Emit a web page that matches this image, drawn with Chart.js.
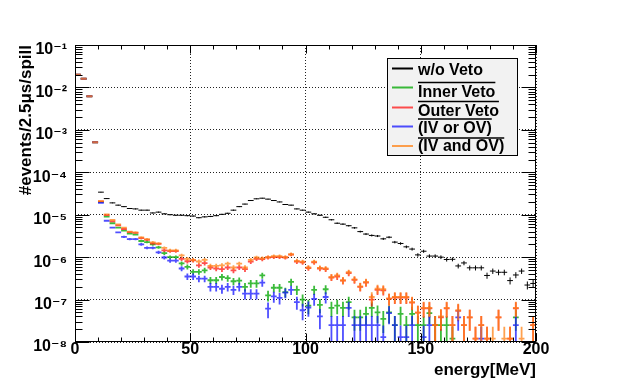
<!DOCTYPE html>
<html>
<head>
<meta charset="utf-8">
<script src="https://cdn.jsdelivr.net/npm/chart.js@4.4.0/dist/chart.umd.min.js"></script>
<style>
  html, body { margin: 0; padding: 0; background: #fff; }
</style>
</head>
<body>
<canvas id="spectrumChart" width="623" height="389"></canvas>
<script>
// bin centres in MeV, 2.5 MeV wide bins
const energyCenters = [
  1.25, 3.75, 6.25, 8.75, 11.25, 13.75, 16.25, 18.75, 21.25, 23.75,
  26.25, 28.75, 31.25, 33.75, 36.25, 38.75, 41.25, 43.75, 46.25, 48.75,
  51.25, 53.75, 56.25, 58.75, 61.25, 63.75, 66.25, 68.75, 71.25, 73.75,
  76.25, 78.75, 81.25, 83.75, 86.25, 88.75, 91.25, 93.75, 96.25, 98.75,
  101.25, 103.75, 106.25, 108.75, 111.25, 113.75, 116.25, 118.75, 121.25, 123.75,
  126.25, 128.75, 131.25, 133.75, 136.25, 138.75, 141.25, 143.75, 146.25, 148.75,
  151.25, 153.75, 156.25, 158.75, 161.25, 163.75, 166.25, 168.75, 171.25, 173.75,
  176.25, 178.75, 181.25, 183.75, 186.25, 188.75, 191.25, 193.75, 196.25, 198.75,
];
const BIN_WIDTH = 2.5;

const woVeto = [
  2.0e-2, 1.6e-2, 6.2e-3, 5.1e-4, 3.4e-5, 2.4e-5, 1.9e-5, 1.68e-5, 1.55e-5, 1.4e-5,
  1.37e-5, 1.28e-5, 1.28e-5, 1.1e-5, 1.15e-5, 1.05e-5, 1.0e-5, 9.7e-6, 9.7e-6, 9.5e-6,
  9.3e-6, 8.5e-6, 8.9e-6, 9.1e-6, 9.5e-6, 1.02e-5, 1.08e-5, 1.28e-5, 1.55e-5, 1.78e-5,
  2.16e-5, 2.37e-5, 2.45e-5, 2.33e-5, 2.16e-5, 2.0e-5, 1.74e-5, 1.68e-5, 1.37e-5, 1.28e-5,
  1.15e-5, 1.05e-5, 9.7e-6, 8.7e-6, 7.6e-6, 6.3e-6, 6.0e-6, 5.5e-6, 4.9e-6, 4.0e-6,
  3.5e-6, 3.25e-6, 3.15e-6, 2.7e-6, 2.95e-6, 2.26e-6, 2.1e-6, 1.75e-6, 1.55e-6, 1.13e-6,
  1.38e-6, 1.06e-6, 1.06e-6, 1.0e-6, 8.8e-7, 8.9e-7, 6.2e-7, 7.3e-7, 5.6e-7, 5.6e-7,
  5.6e-7, 3.7e-7, 4.7e-7, 4.4e-7, 4.4e-7, 2.8e-7, 3.8e-7, 4.7e-7, 2.2e-7, 2.4e-7,
];

const innerVeto = [
  2.0e-2, 1.6e-2, 6.2e-3, 5.1e-4, 2.0e-5, 9.0e-6, 6.3e-6, 4.95e-6, 4.2e-6, 3.6e-6,
  3.4e-6, 2.4e-6, 2.27e-6, 2.0e-6, 1.7e-6, 1.24e-6, 1.0e-6, 1.0e-6, 7.1e-7, 5.9e-7,
  4.5e-7, 4.5e-7, 4.9e-7, 2.85e-7, 2.85e-7, 3.4e-7, 3.2e-7, 2.7e-7, 2.8e-7, 2.0e-7,
  2.4e-7, 2.4e-7, 3.7e-7, 1.26e-7, 1.9e-7, 1.9e-7, 1.5e-7, 2.6e-7, 1.7e-7, 1.0e-7,
  7.2e-8, 1.7e-7, 7.5e-8, 1.75e-7, 6.4e-8, 7.2e-8, 6.4e-8, 8.7e-8, 3.8e-8, 3.8e-8,
  4.6e-8, 6.4e-8, 5.0e-8, 3.5e-8, 5.0e-8, 2.5e-8, 4.6e-8, 2.5e-8, 4.6e-8, 2.5e-8,
  2.5e-8, 4.8e-8, 2.5e-8, 2.5e-8, 2.5e-8, 1.2e-8, null, null, null, null,
  null, null, null, null, null, null, 3.8e-8, null, null, null,
];

const outerVeto = [
  2.0e-2, 1.6e-2, 6.2e-3, 5.1e-4, 2.05e-5, 9.8e-6, 7.0e-6, 5.6e-6, 4.6e-6, 3.9e-6,
  3.75e-6, 2.8e-6, 2.55e-6, 2.1e-6, 2.05e-6, 1.45e-6, 1.38e-6, 1.38e-6, 9.1e-7, 8.0e-7,
  8.4e-7, 6.4e-7, 7.2e-7, 5.7e-7, 5.4e-7, 5.2e-7, 5.7e-7, 4.9e-7, 5.7e-7, 5.2e-7,
  7.8e-7, 9.1e-7, 9.0e-7, 9.8e-7, 1.0e-6, 1.0e-6, 9.8e-7, 1.15e-6, 7.8e-7, 7.5e-7,
  5.5e-7, 7.5e-7, 5.4e-7, 5.2e-7, 3.3e-7, 3.5e-7, 2.8e-7, 4.2e-7, 2.9e-7, 2.0e-7,
  2.5e-7, 1.0e-7, 1.7e-7, 1.65e-7, 1.05e-7, 1.12e-7, 1.12e-7, 1.12e-7, 8.5e-8, 4.9e-8,
  6.2e-8, 6.2e-8, 2.5e-8, 3.8e-8, 6.2e-8, 2.5e-8, 5.4e-8, 2.5e-8, 3.8e-8, 1.2e-8,
  2.5e-8, 1.2e-8, null, 3.8e-8, null, 1.2e-8, 6.2e-8, null, null, 2.5e-8,
];

const ivOrOv = [
  2.0e-2, 1.6e-2, 6.2e-3, 5.1e-4, 1.9e-5, 7.2e-6, 4.95e-6, 3.85e-6, 3.0e-6, 2.67e-6,
  2.67e-6, 2.0e-6, 1.66e-6, 1.66e-6, 1.3e-6, 9.8e-7, 8.3e-7, 8.3e-7, 5.4e-7, 3.5e-7,
  3.5e-7, 3.1e-7, 3.1e-7, 2.0e-7, 2.0e-7, 1.8e-7, 2.0e-7, 1.7e-7, 2.0e-7, 1.38e-7,
  1.38e-7, 1.38e-7, 2.5e-7, 6.1e-8, 1.19e-7, 1.1e-7, 1.45e-7, 1.7e-7, 8.7e-8, 5.6e-8,
  6.5e-8, 1.04e-7, 4.0e-8, 1.15e-7, 2.5e-8, 2.5e-8, 2.5e-8, 6.4e-8, 2.5e-8, 2.5e-8,
  2.5e-8, 2.5e-8, 2.5e-8, 1.3e-8, 4.8e-8, 2.5e-8, 1.3e-8, 1.3e-8, 2.5e-8, null,
  1.3e-8, 2.5e-8, null, null, null, null, 3.8e-8, null, null, null,
  1.2e-8, null, null, null, null, null, 2.5e-8, null, null, null,
];

const ivAndOv = [
  2.0e-2, 1.6e-2, 6.2e-3, 5.1e-4, 2.1e-5, 1.02e-5, 7.5e-6, 5.95e-6, 4.95e-6, 4.0e-6,
  3.85e-6, 2.93e-6, 2.67e-6, 2.24e-6, 2.1e-6, 1.66e-6, 1.45e-6, 1.45e-6, 1.1e-6, 9.1e-7,
  8.6e-7, 7.9e-7, 8.6e-7, 6.2e-7, 6.2e-7, 6.4e-7, 7.0e-7, 5.7e-7, 7.0e-7, 5.7e-7,
  8.6e-7, 9.8e-7, 9.4e-7, 1.0e-6, 1.05e-6, 1.05e-6, 1.0e-6, 1.17e-6, 8.2e-7, 7.8e-7,
  5.7e-7, 7.8e-7, 5.6e-7, 5.4e-7, 3.4e-7, 3.7e-7, 2.85e-7, 4.4e-7, 3.0e-7, 2.04e-7,
  2.6e-7, 1.15e-7, 1.8e-7, 1.75e-7, 1.05e-7, 1.15e-7, 1.15e-7, 1.15e-7, 8.7e-8, 4.9e-8,
  6.4e-8, 6.4e-8, 2.5e-8, 4.0e-8, 6.4e-8, 2.5e-8, 5.6e-8, 2.5e-8, 3.8e-8, 1.2e-8,
  2.5e-8, 1.2e-8, 1.2e-8, 3.8e-8, 1.2e-8, 1.2e-8, 6.4e-8, 1.2e-8, null, 2.5e-8,
];

const xTicks = [0, 50, 100, 150, 200];
const yTicks = [1e-8, 1e-7, 1e-6, 1e-5, 1e-4, 1e-3, 1e-2, 1e-1];

// weight of one event, used for the poisson error bars
const COUNT_UNIT = 1e-8;

const FONT = "'Liberation Sans', 'DejaVu Sans', Arial, sans-serif";
const SUP = { '0': '⁰', '1': '¹', '2': '²', '3': '³', '4': '⁴', '5': '⁵', '6': '⁶', '7': '⁷', '8': '⁸', '9': '⁹' };

function powLabel(v) {
  const e = Math.round(Math.log10(v));
  const digits = String(Math.abs(e)).split('').map(d => SUP[d]).join('');
  return '10' + (e < 0 ? '⁻' : '') + digits;
}

function toPoints(values) {
  return energyCenters.map((e, i) => ({ x: e, y: values[i] }));
}

// crosses: bin width horizontally, sqrt(N) vertically
const errorCrosses = {
  id: 'errorCrosses',
  afterDatasetsDraw(chart) {
    const { ctx, chartArea: a, scales: { x, y } } = chart;
    ctx.save();
    ctx.beginPath();
    ctx.rect(a.left, a.top, a.right - a.left, a.bottom - a.top);
    ctx.clip();
    chart.data.datasets.forEach((ds) => {
      ctx.strokeStyle = ds.borderColor;
      ctx.lineWidth = ds.borderWidth;
      ds.data.forEach((p) => {
        if (p.y == null) return;
        const err = Math.sqrt(p.y * COUNT_UNIT);
        const px = x.getPixelForValue(p.x);
        const x0 = x.getPixelForValue(p.x - BIN_WIDTH / 2);
        const x1 = x.getPixelForValue(p.x + BIN_WIDTH / 2);
        const py = y.getPixelForValue(p.y);
        const yHi = y.getPixelForValue(p.y + err);
        const yLo = p.y - err > 0 ? Math.min(y.getPixelForValue(p.y - err), a.bottom + 2) : a.bottom + 2;
        ctx.beginPath();
        ctx.moveTo(x0, py);
        ctx.lineTo(x1, py);
        ctx.moveTo(px, yHi);
        ctx.lineTo(px, yLo);
        ctx.stroke();
      });
    });
    ctx.restore();
  },
};

// ROOT style frame with inner ticks, and the boxed legend
const frameAndLegend = {
  id: 'frameAndLegend',
  afterDraw(chart) {
    const { ctx, chartArea: a, scales: { x, y } } = chart;
    ctx.save();
    ctx.strokeStyle = '#000';
    ctx.lineWidth = 1;
    const L = Math.round(a.left) + 0.5, R = Math.round(a.right) - 0.5;
    const T = Math.round(a.top) + 0.5, B = Math.round(a.bottom) - 0.5;
    ctx.strokeRect(L, T, R - L, B - T);

    ctx.beginPath();
    for (let v = 0; v <= 200; v += 10) {
      const px = Math.round(x.getPixelForValue(v)) + 0.5;
      const len = v % 50 === 0 ? 8 : 4;
      ctx.moveTo(px, B); ctx.lineTo(px, B - len);
      ctx.moveTo(px, T); ctx.lineTo(px, T + len);
    }
    for (let d = -8; d <= -1; d++) {
      for (let k = 1; k <= 9; k++) {
        const v = k * Math.pow(10, d);
        if (v > 0.1000001) break;
        const py = Math.round(y.getPixelForValue(v)) + 0.5;
        const len = k === 1 ? 14 : 7;
        ctx.moveTo(L, py); ctx.lineTo(L + len, py);
        ctx.moveTo(R, py); ctx.lineTo(R - len, py);
      }
    }
    ctx.stroke();

    // legend
    const box = { left: 387, top: 58, right: 518, bottom: 156 };
    ctx.fillStyle = '#f2f2f2';
    ctx.fillRect(box.left, box.top, box.right - box.left, box.bottom - box.top);
    ctx.strokeRect(box.left + 0.5, box.top + 0.5, box.right - box.left - 1, box.bottom - box.top - 1);

    const lineY = [68.5, 87.5, 107.5, 126.5, 146];
    const baseY = [75, 96.5, 116, 132.5, 151];
    const overY = [null, 82.5, 101.5, 119, 138];
    ctx.font = 'bold 16px ' + FONT;
    ctx.textBaseline = 'alphabetic';
    ctx.textAlign = 'left';
    chart.data.datasets.forEach((ds, i) => {
      ctx.strokeStyle = ds.borderColor;
      ctx.lineWidth = 2;
      ctx.beginPath();
      ctx.moveTo(392, lineY[i]);
      ctx.lineTo(413, lineY[i]);
      ctx.stroke();
      ctx.fillStyle = '#000';
      ctx.fillText(ds.label, 418, baseY[i]);
      if (ds.overline) {
        const w = ctx.measureText(ds.label).width;
        ctx.strokeStyle = '#000';
        ctx.lineWidth = 1.5;
        ctx.beginPath();
        ctx.moveTo(418, overY[i]);
        ctx.lineTo(418 + w, overY[i]);
        ctx.stroke();
      }
    });
    ctx.restore();
  },
};

const datasets = [
  { label: 'w/o Veto', data: toPoints(woVeto), borderColor: '#000000', borderWidth: 1, overline: false },
  { label: 'Inner Veto', data: toPoints(innerVeto), borderColor: 'rgba(10, 170, 10, 0.8)', borderWidth: 1.8, overline: true },
  { label: 'Outer Veto', data: toPoints(outerVeto), borderColor: 'rgba(255, 20, 20, 0.75)', borderWidth: 1.8, overline: true },
  { label: '(IV or OV)', data: toPoints(ivOrOv), borderColor: 'rgba(20, 20, 255, 0.75)', borderWidth: 1.8, overline: true },
  { label: '(IV and OV)', data: toPoints(ivAndOv), borderColor: 'rgba(255, 130, 20, 0.75)', borderWidth: 1.8, overline: true },
].map(d => ({ ...d, showLine: false, pointRadius: 0, pointHoverRadius: 0 }));

new Chart(document.getElementById('spectrumChart'), {
  type: 'scatter',
  data: { datasets },
  options: {
    responsive: false,
    animation: false,
    devicePixelRatio: 1,
    layout: { padding: { top: 45, right: 87, left: 0, bottom: 0 } },
    plugins: { legend: { display: false }, tooltip: { enabled: false } },
    scales: {
      x: {
        type: 'linear',
        min: 0,
        max: 200,
        afterBuildTicks: (s) => { s.ticks = xTicks.map(v => ({ value: v })); },
        afterFit: (s) => { s.height = 47; },
        grid: { color: '#222', lineWidth: 1, drawTicks: false },
        border: { display: false, dash: [1, 2] },
        ticks: {
          color: '#000',
          font: { family: FONT, size: 16, weight: 'bold', lineHeight: 1 },
          padding: 0,
          maxRotation: 0,
          autoSkip: false,
        },
        title: {
          display: true,
          text: 'energy[MeV]',
          align: 'end',
          color: '#000',
          font: { family: FONT, size: 17, weight: 'bold' },
          padding: { top: 0, bottom: 8 },
        },
      },
      y: {
        type: 'logarithmic',
        min: 1e-8,
        max: 1e-1,
        afterBuildTicks: (s) => { s.ticks = yTicks.map(v => ({ value: v })); },
        afterFit: (s) => { s.width = 75; },
        grid: { color: '#222', lineWidth: 1, drawTicks: false },
        border: { display: false, dash: [1, 2] },
        ticks: {
          color: '#000',
          font: { family: FONT, size: 16, weight: 'bold' },
          padding: 8,
          labelOffset: 5,
          autoSkip: false,
          callback: (v) => powLabel(v),
        },
        title: {
          display: true,
          text: '#events/2.5μs/spill',
          align: 'end',
          color: '#000',
          font: { family: FONT, size: 17, weight: 'bold' },
          padding: { top: 16, bottom: 0 },
        },
      },
    },
  },
  plugins: [errorCrosses, frameAndLegend],
});
</script>
</body>
</html>
